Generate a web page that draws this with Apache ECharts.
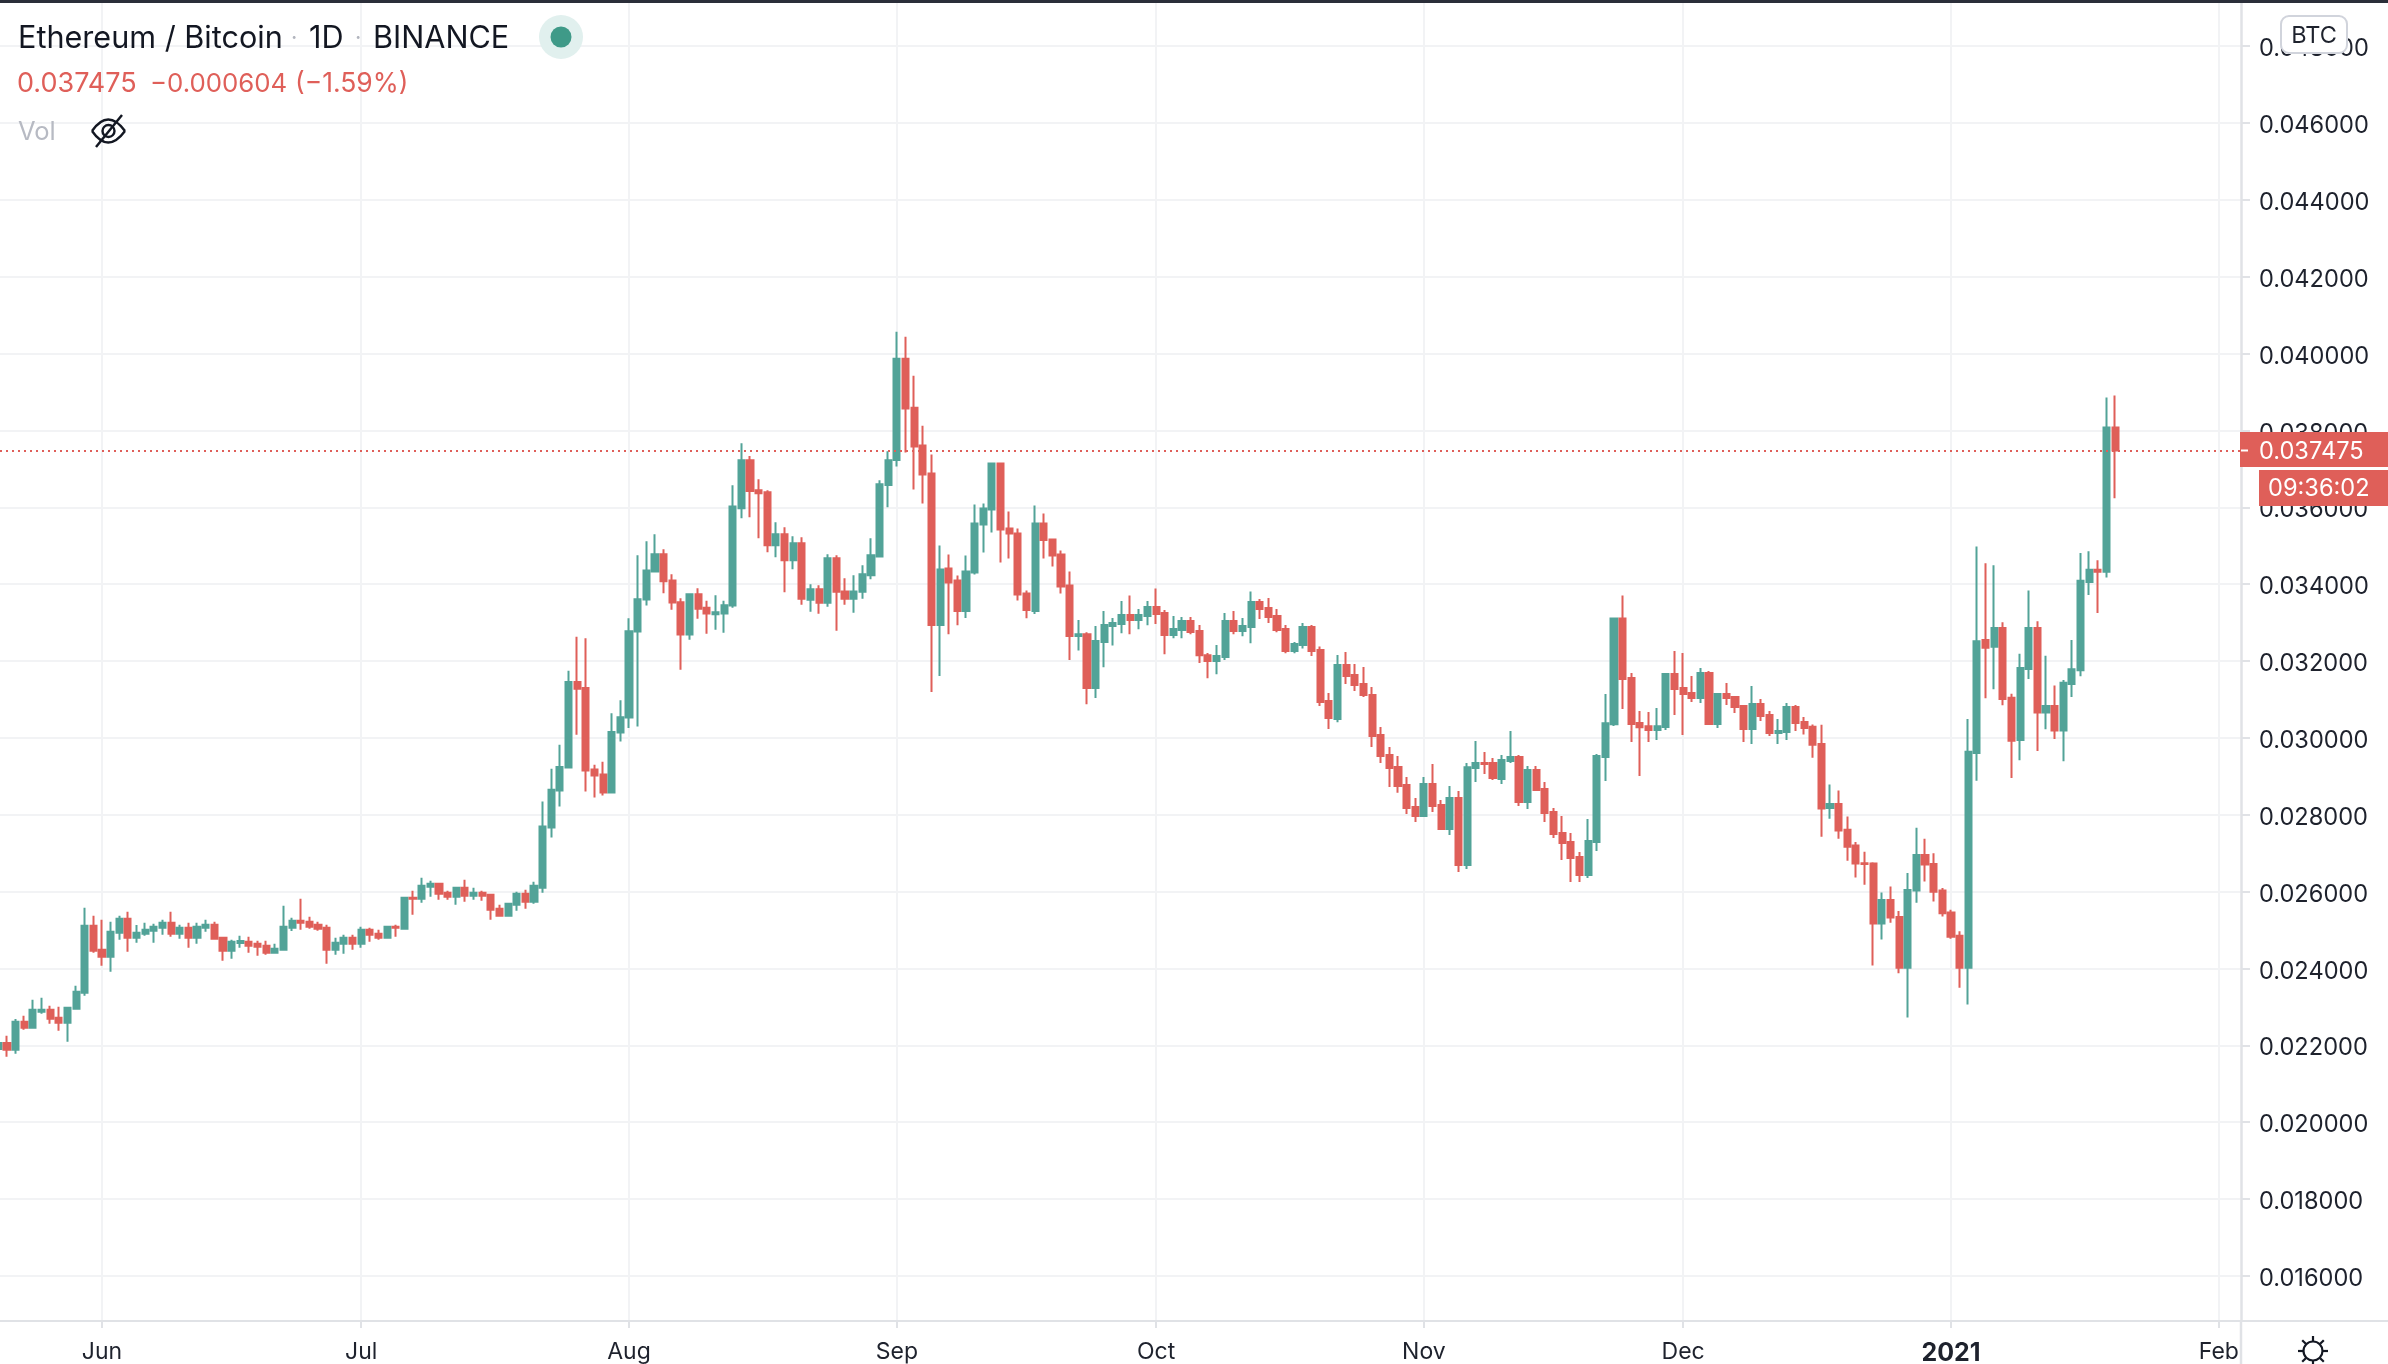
<!DOCTYPE html>
<html><head><meta charset="utf-8">
<style>html,body{margin:0;padding:0;background:#fff}#c{width:2388px;height:1364px}</style>
<script src="https://cdn.jsdelivr.net/npm/echarts@6/dist/echarts.min.js"></script>
</head><body><div id="c"></div>
<script>
// Daily candles ETH/BTC; day 0 is 2020-05-20, values in millionths of a BTC
const opens = [
21905,22061,21887,22616,22460,22876,22928,22720,22590,22954,
23370,25113,24488,24306,24930,25295,24800,24904,24983,25061,
25191,24904,25061,24800,25061,25139,24800,24462,24662,24696,
24644,24592,24410,24488,25061,25243,25217,25139,25061,24488,
24644,24800,24644,25008,24904,24800,25087,25035,25841,25815,
26127,26205,25971,25867,26101,25893,25971,25919,25555,25373,
25659,25945,25737,26101,27671,28633,29231,31451,31295,29179,
29049,28581,30141,30532,32769,33601,34329,34780,34095,33531,
32690,33740,33384,33219,33237,33445,35976,37225,36445,36393,
35014,35300,34624,35066,33592,33870,33514,34676,33809,33618,
33800,34234,34719,36583,37228,39864,38589,37610,36881,32936,
34410,34098,33301,34306,35555,35945,37141,35451,35321,33760,
33301,35581,35165,34774,33968,32650,32694,31298,32494,32910,
32962,33196,33066,33170,33405,33248,32676,32806,33040,32780,
32147,32000,32104,33040,32780,32884,33535,33379,33170,32832,
32260,32416,32884,32286,30960,30491,31896,31636,31401,31115,
30075,29555,29243,28774,28202,27968,28800,28254,27630,28436,
26694,29217,29347,29347,28930,29399,29503,28332,29165,28670,
28072,27526,27292,26902,26434,27292,29503,30352,33109,31557,
30387,30300,30205,30283,31662,31297,31167,31037,31688,30361,
31141,31063,30829,30231,30881,30595,30127,30153,30803,30414,
30287,29841,28174,28280,27611,27197,26740,26729,25168,25784,
25338,24021,26028,26952,26719,26028,25455,24850,24021,29607,
32549,32369,32857,31041,29947,31795,32857,30659,30829,30191,
31402,31763,34057,34376,34323,38079];
const closes = [
22061,21887,22616,22460,22928,22928,22694,22590,22980,23396,
25113,24462,24306,24956,25295,24800,24930,25008,25087,25191,
24904,25061,24800,25087,25139,24774,24462,24696,24714,24592,
24566,24410,24514,25087,25243,25191,25087,25035,24488,24670,
24800,24644,25008,24878,24800,25087,25061,25841,25815,26153,
26205,25945,25867,26101,25893,25971,25893,25529,25373,25685,
25945,25737,26153,27697,28650,29240,31451,31277,29153,29023,
28581,30150,30540,32777,33609,34355,34780,34078,33523,32690,
33740,33358,33237,33271,33453,36020,37225,36427,36367,35014,
35300,34624,35066,33618,33870,33514,34676,33800,33618,33809,
34260,34754,36601,37225,39864,38572,37583,36855,32936,34384,
34046,33301,34332,35581,35971,37141,35425,35321,33734,33327,
35581,35147,34748,33942,32650,32694,31298,32520,32936,32988,
33196,33066,33196,33405,33222,32676,32832,33040,32754,32147,
32000,32130,33040,32780,32910,33535,33353,33144,32806,32260,
32442,32884,32260,30934,30517,31896,31610,31375,31115,30049,
29529,29217,28748,28176,27968,28800,28228,27630,28436,26694,
29234,29347,29321,28956,29425,29503,28332,29165,28644,28046,
27500,27266,26876,26434,27318,29529,30378,33109,31531,30361,
30274,30205,30300,31662,31271,31141,31037,31688,30361,31141,
31037,30803,30231,30881,30569,30127,30179,30803,30387,30255,
29820,28163,28280,27590,27165,26729,26719,25168,25784,25328,
24021,26039,26952,26708,25997,25434,24828,24021,29639,32517,
32347,32857,31009,29926,31816,32857,30659,30829,30191,31434,
31784,34089,34376,34323,38079,37475];
const lows = [
21880,21705,21783,22407,22460,22824,22563,22381,22095,22954,
23292,24410,24072,23916,24748,24436,24670,24852,24670,24878,
24826,24774,24540,24644,24957,24774,24202,24254,24540,24410,
24332,24358,24384,24462,24974,25008,25035,24983,24124,24358,
24384,24488,24540,24696,24748,24774,24826,25008,25399,25711,
25867,25789,25789,25659,25737,25789,25763,25269,25347,25373,
25503,25555,25685,25971,27410,28217,29231,30081,28607,28451,
28503,28581,29907,30254,30298,33445,34312,33766,33332,31771,
32552,33098,32708,32812,32734,33384,35716,35742,35196,34832,
34702,33792,34390,33462,33280,33228,33410,32786,33462,33254,
33618,34130,34702,36002,37063,37427,36465,36101,31194,31610,
32694,32928,33118,34254,34826,35347,34566,34670,33578,33110,
33222,34670,34462,33760,32026,32277,30873,31038,31835,32407,
32720,32694,32824,32928,32962,32173,32590,32590,32694,31948,
31549,31653,32026,32694,32642,32460,33092,32988,32746,32199,
32199,32329,32130,30830,30231,30404,31401,31219,31063,29763,
29347,28722,28575,28020,27812,27968,28072,27604,27474,26512,
26590,28852,29060,28904,28800,29347,28228,28150,28618,27812,
27396,26824,26251,26251,26355,27058,28878,30309,30751,29893,
29008,29893,29945,30205,30595,30075,30933,30907,30361,30257,
30855,30647,29893,29841,30439,30049,29841,29945,30179,30085,
29480,27430,27898,27377,26804,26368,26177,24074,24754,25189,
23873,22726,25710,26262,25742,25349,24775,23501,23065,28885,
31030,31264,30850,28959,29416,31530,29661,30223,29968,29395,
31062,31604,33717,33250,34174,36234];
const highs = [
22090,22251,22685,22772,23188,23240,23032,23006,23006,23552,
25581,25373,25269,25217,25373,25477,25130,25191,25165,25269,
25477,25139,25191,25191,25269,25217,24826,24748,24852,24826,
24722,24722,24644,25633,25321,25815,25347,25217,25139,24800,
24878,24878,25087,25061,25008,25087,25139,25867,26023,26361,
26283,26205,26023,26127,26309,26101,26023,25945,25659,25685,
25997,26049,26257,28347,29196,29821,31745,32630,32595,29300,
29379,30644,30982,33115,34754,35118,35300,34910,34260,33636,
33740,33896,33566,33714,33566,36575,37667,37338,36731,36445,
35612,35482,35248,35222,34000,33974,34780,34754,34156,34234,
34494,35196,36705,37459,40566,40436,39421,38121,37375,35008,
34774,34228,34748,36075,36101,37167,37167,35893,35451,33838,
36049,35841,35165,34878,34332,33066,32746,32910,33301,33118,
33561,33708,33353,33561,33890,33327,33170,33144,33144,32936,
32208,32416,33248,33301,33118,33812,33613,33639,33353,32936,
32494,32988,32936,32381,31168,32156,32234,31922,31844,31323,
30283,29763,29529,28982,28436,28982,29321,28384,28748,28618,
29347,29919,29633,29477,29555,30179,29555,29269,29269,28852,
28176,27968,27526,27032,27890,29581,31141,33109,33708,31688,
30699,30673,30777,31688,32260,32208,31610,31817,31740,31167,
31427,31063,30855,31349,31011,30699,30491,30907,30855,30542,
30351,30340,28790,28630,27951,27292,27037,26761,25975,26135,
25497,26485,27664,27377,26995,26092,25529,24966,30489,34981,
34546,34493,33006,31147,32188,33834,33038,32135,31360,31508,
32549,34811,34854,34620,38857,38910];
const priceTicks = [0.016,0.018,0.020,0.022,0.024,0.026,0.028,0.030,0.032,0.034,0.036,0.038,0.040,0.042,0.044,0.046,0.048];
// days since 2020-05-20 at which each month starts
const monthDays = [12,42,73,104,134,165,195,226,257];
const monthLabels = ['Jun','Jul','Aug','Sep','Oct','Nov','Dec','2021','Feb'];
const lastPrice = 0.037475;

const UP='#52A398', DOWN='#DF5F59', INK='#1E222D', GRID='#F2F3F5', EDGE='#E0E2E6', FONT='Inter, "Noto Sans", sans-serif';
const candles=opens.map((o,i)=>[i,o/1e6,closes[i]/1e6,lows[i]/1e6,highs[i]/1e6]);

const g=[];
const text=(x,y,t,size,fill,extra)=>g.push({type:'text',x,y,z:100,style:Object.assign({text:t,fill,font:size+'px '+FONT,align:'left',verticalAlign:'middle'},extra||{})});
// frame lines
g.push({type:'rect',z:90,shape:{x:0,y:0,width:2388,height:3},style:{fill:'#2A2E39'}});
g.push({type:'line',z:90,shape:{x1:2241,y1:1321,x2:2241,y2:1364},style:{stroke:EDGE,lineWidth:2.5}});
g.push({type:'line',z:90,shape:{x1:2241,y1:1321,x2:2388,y2:1321},style:{stroke:EDGE,lineWidth:2}});
// header
text(18,38.5,'Ethereum / Bitcoin',30.6,'#131722');
text(291,38.5,'·',22,'#B2B5BE');
text(309,38.5,'1D',30.6,'#131722');
text(355,38.5,'·',22,'#B2B5BE');
text(373,38.5,'BINANCE',30.6,'#131722');
g.push({type:'circle',z:100,shape:{cx:561,cy:37,r:22},style:{fill:'#E1F0EE'}});
g.push({type:'circle',z:101,shape:{cx:561,cy:37,r:10.5},style:{fill:'#3F9A88'}});
text(17,84,'0.037475',27,DOWN);
text(150,84,'−0.000604',25.8,DOWN);
text(295,84,'(−1.59%)',26.5,DOWN);
text(18,132,'Vol',25.5,'#B7BAC3');
// eye-off icon
g.push({type:'bezierCurve',z:100,shape:{x1:92,y1:131,cpx1:108,cpy1:108,x2:125,y2:131},style:{fill:'none',stroke:'#131722',lineWidth:2.4}});
g.push({type:'bezierCurve',z:100,shape:{x1:92,y1:131,cpx1:108,cpy1:154,x2:125,y2:131},style:{fill:'none',stroke:'#131722',lineWidth:2.4}});
g.push({type:'circle',z:100,shape:{cx:108.5,cy:131,r:6},style:{fill:'none',stroke:'#131722',lineWidth:2.4}});
g.push({type:'line',z:100,shape:{x1:96,y1:147,x2:122,y2:115},style:{stroke:'#131722',lineWidth:2.4}});
// price tags
g.push({type:'rect',z:100,shape:{x:2240,y:432,width:148,height:35},style:{fill:DOWN}});
g.push({type:'line',z:101,shape:{x1:2241,y1:450.5,x2:2248,y2:450.5},style:{stroke:'#fff',lineWidth:2}});
text(2259,451.5,'0.037475',23.6,'#fff');
g.push({type:'rect',z:100,shape:{x:2259,y:470,width:129,height:36},style:{fill:DOWN}});
text(2268,489,'09:36:02',23.6,'#fff');
// BTC badge
g.push({type:'rect',z:100,shape:{x:2281,y:16,width:66,height:37,r:8},style:{fill:'#fff',stroke:'#D1D4DC',lineWidth:2}});
text(2314,35.5,'BTC',23.5,INK,{align:'center'});
// settings sun icon
g.push({type:'circle',z:100,shape:{cx:2313,cy:1351,r:9.5},style:{fill:'none',stroke:'#131722',lineWidth:2.2}});
[[0,-1],[0,1],[1,0],[-1,0],[.72,.72],[-.72,.72],[.72,-.72],[-.72,-.72]].forEach(d=>{
  g.push({type:'line',z:100,shape:{x1:2313+d[0]*10,y1:1351+d[1]*10,x2:2313+d[0]*15,y2:1351+d[1]*15},style:{stroke:'#131722',lineWidth:2.2}});
});

const chart=echarts.init(document.getElementById('c'),null,{renderer:'canvas'});
chart.setOption({
  animation:false,
  backgroundColor:'#fff',
  textStyle:{fontFamily:FONT},
  grid:{left:0,top:3,width:2241,height:1318,containLabel:false,outerBoundsMode:'none'},
  xAxis:{
    type:'value',
    min:0.194,
    max:259.57,
    axisLine:{show:true,lineStyle:{color:EDGE,width:2}},
    axisTick:{show:true,length:7,customValues:monthDays,lineStyle:{color:EDGE,width:2}},
    splitLine:{show:true,lineStyle:{color:GRID,width:2}},
    axisLabel:{
      customValues:monthDays,margin:20,fontSize:23,color:INK,fontFamily:FONT,
      formatter:v=>{const s=monthLabels[monthDays.indexOf(v)]||'';return s==='2021'?'{b|'+s+'}':s;},
      rich:{b:{fontWeight:700,fontSize:25,color:INK,fontFamily:FONT}}
    }
  },
  yAxis:{
    type:'value',position:'right',
    min:0.014826,max:0.049123,
    axisLine:{show:true,lineStyle:{color:EDGE,width:2.5}},
    axisTick:{show:true,length:9,customValues:priceTicks,lineStyle:{color:EDGE,width:2}},
    splitLine:{show:true,lineStyle:{color:GRID,width:2}},
    axisLabel:{customValues:priceTicks,margin:18,fontSize:23.6,lineHeight:24,verticalAlign:'top',padding:[-9,0,0,0],color:INK,fontFamily:FONT,formatter:v=>v.toFixed(6)}
  },
  series:[{
    type:'candlestick',
    barWidth:6.6,
    data:candles,
    itemStyle:{color:UP,color0:DOWN,borderColor:UP,borderColor0:DOWN,borderWidth:2},
    markLine:{
      silent:true,symbol:'none',animation:false,precision:6,
      label:{show:false},
      lineStyle:{color:DOWN,type:[2,4],width:2},
      data:[{yAxis:lastPrice}]
    }
  }],
  graphic:{elements:g}
});
</script></body></html>
